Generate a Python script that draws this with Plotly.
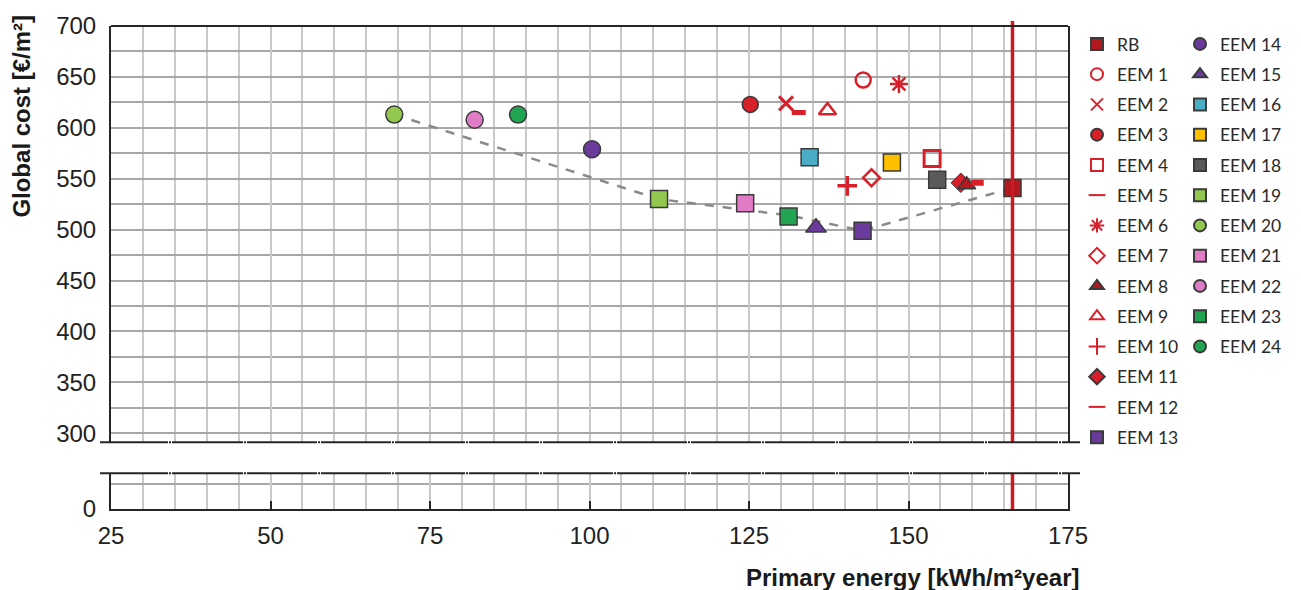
import plotly.graph_objects as go

# ---------------- data ----------------
names = ["RB", "EEM 1", "EEM 2", "EEM 3", "EEM 4", "EEM 5", "EEM 6", "EEM 7", "EEM 8",
         "EEM 9", "EEM 10", "EEM 11", "EEM 12", "EEM 13", "EEM 14", "EEM 15", "EEM 16",
         "EEM 17", "EEM 18", "EEM 19", "EEM 20", "EEM 21", "EEM 22", "EEM 23", "EEM 24"]
energy = [166.3, 142.9, 130.8, 125.2, 153.7, 132.8, 148.5, 144.2, 159.1, 137.3, 140.4,
          158.2, 160.8, 142.8, 100.4, 135.5, 134.5, 147.4, 154.5, 110.9, 69.4, 124.4,
          82.0, 131.2, 88.8]
cost = [541, 647, 624, 623, 570, 615, 643, 551, 544, 617, 543, 546, 546, 499, 579, 502,
        571, 566, 549, 530, 613, 526, 608, 513, 613]
trend_energy = [69.4, 110.9, 131.2, 142.8, 166.3]
trend_cost = [613, 530, 514, 499, 541]
x_ticks = [25, 50, 75, 100, 125, 150, 175]
y_ticks_top = [300, 350, 400, 450, 500, 550, 600, 650, 700]
y_ticks_bottom = [0]

# ---------------- styles ----------------
RED = "#d7202a"
DRED = "#b3181f"
PUR = "#6a3a9c"
CYAN = "#4bacc6"
YEL = "#ffc000"
GRAY = "#5a5a5a"
LGRN = "#92c850"
PINK = "#e07cc6"
GRN = "#22a552"
OUT = "#3a3a3a"

# (symbol, colour, filled, size, line width)
styles = [
    ("square", DRED, True, 17, 1.5),
    ("circle-open", RED, False, 15, 2.5),
    ("x-thin-open", RED, False, 14, 3),
    ("circle", RED, True, 16, 1.5),
    ("square-open", RED, False, 16, 3),
    ("line-ew-open", RED, False, 10, 5),
    ("asterisk-open", RED, False, 15, 2.5),
    ("diamond-open", RED, False, 13, 2.5),
    ("triangle-up", DRED, True, 16, 1.5),
    ("triangle-up-open", RED, False, 15, 2.5),
    ("cross-thin-open", RED, False, 14, 3.5),
    ("diamond", RED, True, 15, 1),
    ("line-ew-open", RED, False, 9, 6),
    ("square", PUR, True, 17, 1.5),
    ("circle", PUR, True, 17, 1.5),
    ("triangle-up", PUR, True, 18, 1.5),
    ("square", CYAN, True, 17, 1.5),
    ("square", YEL, True, 17, 1.5),
    ("square", GRAY, True, 17, 1.5),
    ("square", LGRN, True, 17, 1.5),
    ("circle", LGRN, True, 17, 1.5),
    ("square", PINK, True, 17, 1.5),
    ("circle", PINK, True, 17, 1.5),
    ("square", GRN, True, 17, 1.5),
    ("circle", GRN, True, 17, 1.5),
]
# drawing order (EEM 8 drawn above EEM 11); legend order kept by legendrank
draw_order = [0, 1, 2, 3, 4, 5, 6, 7, 9, 10, 11, 8, 12, 13, 14, 15, 16, 17, 18, 19,
              20, 21, 22, 23, 24]

# ---------------- geometry (pixels -> paper) ----------------
W, H = 1301, 590
L, R, T, B = 111, 1068, 24, 509
def px(p):
    return (p - L) / (R - L)
def py(p):
    return (B - p) / (B - T)

TOP_BOTTOM_PX = 442
BOT_TOP_PX = 473
TOP_RANGE = [291.2, 700]
BOT_RANGE = [0, 35.2]
RLINE = "#cc1a22"

fig = go.Figure()

# trend line (top panel)
fig.add_trace(go.Scatter(x=trend_energy, y=trend_cost, xaxis="x", yaxis="y2",
                         mode="lines", line=dict(color="#8a8a8a", width=2.5, dash="dash"),
                         showlegend=False, hoverinfo="skip"))

for i in draw_order:
    n, e, c = names[i], energy[i], cost[i]
    sym, col, filled, size, lw = styles[i]
    marker = dict(symbol=sym, size=size, color=col,
                  line=dict(color=OUT if filled else col, width=lw))
    fig.add_trace(go.Scatter(x=[e], y=[c], xaxis="x", yaxis="y2", mode="markers",
                             marker=marker, name=n, legendgroup=n, legendrank=100 + i,
                             legend="legend" if i < 14 else "legend2"))

# reference vertical line at RB energy, in both panels
rb = energy[0]
fig.add_trace(go.Scatter(x=[rb, rb], y=BOT_RANGE, xaxis="x", yaxis="y", mode="lines",
                         line=dict(color=RLINE, width=3.5), showlegend=False,
                         hoverinfo="skip", cliponaxis=False))
fig.add_shape(type="line", xref="x", yref="paper", x0=rb, x1=rb,
              y0=py(TOP_BOTTOM_PX), y1=py(T - 5), line=dict(color=RLINE, width=3.5))

# frame and break lines
AX = "#262626"
fig.add_shape(type="line", xref="paper", yref="paper", x0=0, x1=1, y0=1, y1=1,
              line=dict(color=AX, width=2))
for yy in (TOP_BOTTOM_PX, BOT_TOP_PX):
    fig.add_shape(type="line", xref="paper", yref="paper", x0=px(100), x1=px(1080),
                  y0=py(yy), y1=py(yy), line=dict(color=AX, width=2))
    for xm in [170, 245, 319, 393, 467, 541, 615, 689, 763, 837, 911, 986, 1060]:
        for dx in (-1.5, 1.5):
            fig.add_shape(type="line", xref="paper", yref="paper",
                          x0=px(xm + dx), x1=px(xm + dx), y0=py(yy - 3), y1=py(yy + 3),
                          line=dict(color="white", width=1))

TICKFONT = dict(family="Liberation Sans, Arial", size=24, color="#222222")
TITLEFONT = dict(family="Liberation Sans, Arial", size=24, color="#1a1a1a")
LEGFONT = dict(family="Lato, Open Sans", size=17.5, color="#2a2a2a")

fig.update_layout(
    width=W, height=H,
    margin=dict(l=L, r=W - R, t=T, b=H - B),
    paper_bgcolor="white", plot_bgcolor="white",
    xaxis=dict(range=[25, 175], tickvals=x_ticks, ticks="inside", ticklen=8,
               tickcolor=AX, tickwidth=2, tickfont=TICKFONT, showgrid=True,
               gridcolor="#c9c9c9", gridwidth=1.5, showline=True, linecolor=AX,
               linewidth=2, mirror=False, zeroline=False, anchor="y",
               ticklabelstandoff=4,
               minor=dict(dtick=5, tick0=25, showgrid=True, gridcolor="#c9c9c9",
                          gridwidth=1.5, ticks="")),
    yaxis=dict(domain=[0, py(BOT_TOP_PX)], range=BOT_RANGE, tickvals=y_ticks_bottom,
               tickfont=TICKFONT, showgrid=False, showline=True, linecolor=AX,
               linewidth=2, mirror=True, zeroline=False, anchor="x", ticks="",
               ticklabelstandoff=8,
               minor=dict(tickvals=[25], showgrid=True, gridcolor="#a8a8a8",
                          gridwidth=1.5, ticks="")),
    yaxis2=dict(domain=[py(TOP_BOTTOM_PX), 1], range=TOP_RANGE, tickvals=y_ticks_top,
                tickfont=TICKFONT, showgrid=True, gridcolor="#a8a8a8", gridwidth=1.5,
                showline=True, linecolor=AX, linewidth=2, mirror=True, zeroline=False,
                anchor="x", ticks="", ticklabelstandoff=8,
                minor=dict(dtick=25, tick0=300, showgrid=True, gridcolor="#a8a8a8",
                           gridwidth=1.5, ticks="")),
    legend=dict(x=px(1077), y=1, xanchor="left", yanchor="top",
                font=LEGFONT, itemsizing="constant", tracegroupgap=4.5,
                bgcolor="rgba(0,0,0,0)"),
    legend2=dict(x=px(1180), y=1, xanchor="left", yanchor="top",
                 font=LEGFONT, itemsizing="constant", tracegroupgap=4.5,
                 bgcolor="rgba(0,0,0,0)"),
    annotations=[
        dict(text="<b>Global cost [€/m²]</b>", xref="paper", yref="paper",
             x=px(22), y=py(115), textangle=-90, showarrow=False,
             xanchor="center", yanchor="middle", font=TITLEFONT),
        dict(text="<b>Primary energy [kWh/m²year]</b>", xref="paper", yref="paper",
             x=px(1081), y=py(578), showarrow=False, xanchor="right", yanchor="middle",
             font=TITLEFONT),
    ],
)

fig.write_html("out.html", config={"displayModeBar": False},
               post_script="document.body.style.margin='0px';")
